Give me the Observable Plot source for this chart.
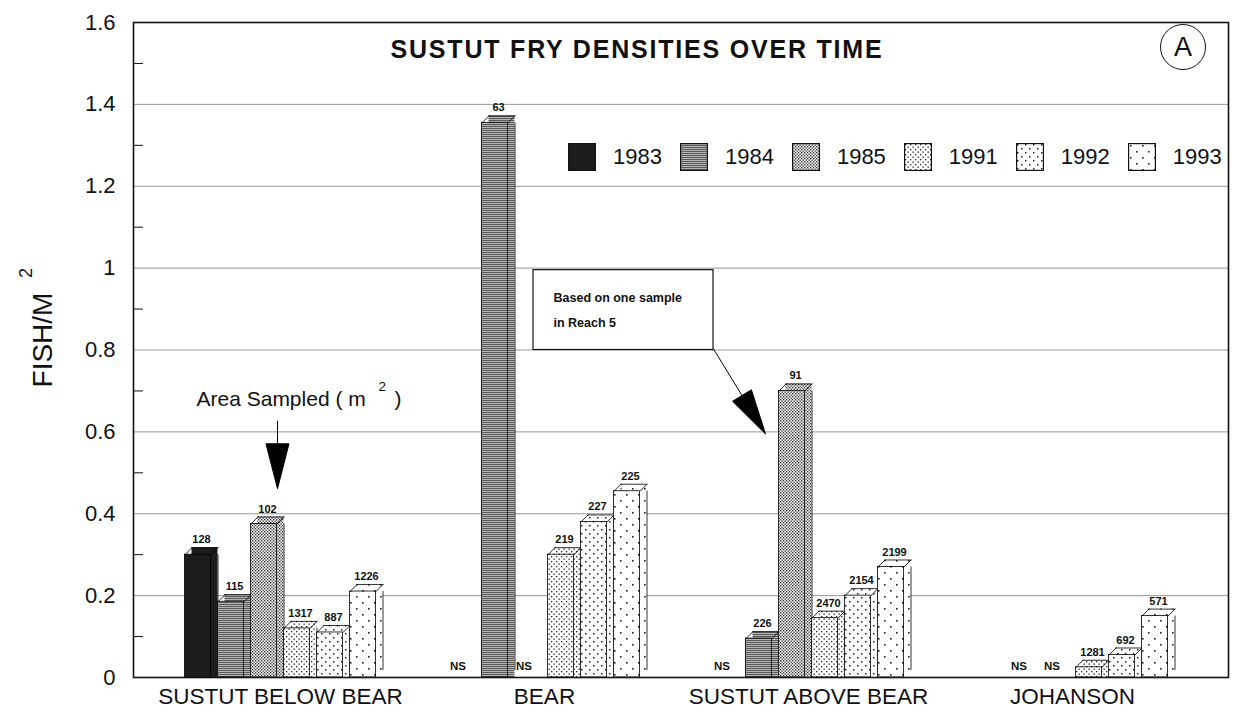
<!DOCTYPE html>
<html><head><meta charset="utf-8">
<script src="https://cdn.jsdelivr.net/npm/d3@7"></script>
<script src="https://cdn.jsdelivr.net/npm/@observablehq/plot@0.6"></script>
<style>
body{margin:0;background:#fff;font-family:"Liberation Sans",Arial,sans-serif;}
#wrap{position:relative;width:1237px;height:717px;overflow:hidden;}
#chart{position:absolute;left:0;top:0;}
#title{position:absolute;left:287px;width:700px;top:37px;text-align:center;font-weight:bold;font-size:25px;line-height:25px;letter-spacing:1.8px;color:#111;}
#badge{position:absolute;left:1160px;top:24px;width:46px;height:46px;border:1.4px solid #111;border-radius:50%;box-sizing:border-box;text-align:center;line-height:45px;font-size:27px;color:#111;}
#legend{position:absolute;left:568px;top:143px;display:flex;align-items:center;}
.item{display:flex;align-items:center;margin-right:18px;}
.sw{width:28px;height:28px;margin-right:17px;}
.lab{font-size:22px;color:#111;}
</style></head>
<body>
<div id="wrap">
<svg width="0" height="0" style="position:absolute">
 <defs>
  <pattern id="p1984" patternUnits="userSpaceOnUse" width="4" height="2">
   <rect width="4" height="2" fill="#b4b4b4"/><rect width="4" height="1" fill="#5a5a5a"/>
  </pattern>
  <pattern id="p1985" patternUnits="userSpaceOnUse" width="3" height="3">
   <rect width="3" height="3" fill="#f2f2f2"/><rect x="0" y="0" width="1.3" height="1.3" fill="#333"/><rect x="1.5" y="1.5" width="1.3" height="1.3" fill="#333"/>
  </pattern>
  <pattern id="p1991" patternUnits="userSpaceOnUse" width="5" height="5">
   <rect width="5" height="5" fill="#fff"/><rect x="1" y="1" width="1.3" height="1.3" fill="#222"/><rect x="3.5" y="3.5" width="1.3" height="1.3" fill="#222"/>
  </pattern>
  <pattern id="p1992" patternUnits="userSpaceOnUse" width="8" height="8">
   <rect width="8" height="8" fill="#fff"/><rect x="1" y="1" width="1.5" height="1.5" fill="#222"/><rect x="5" y="5" width="1.5" height="1.5" fill="#222"/>
  </pattern>
  <pattern id="p1993" patternUnits="userSpaceOnUse" width="12" height="12">
   <rect width="12" height="12" fill="#fff"/><rect x="2" y="2" width="1.6" height="1.6" fill="#222"/><rect x="8" y="8" width="1.6" height="1.6" fill="#222"/>
  </pattern>
 </defs>
</svg>
<div id="chart"></div>
<div id="title">SUSTUT FRY DENSITIES OVER TIME</div>
<div id="badge">A</div>
<div id="legend"></div>
</div>
<script>
// ---- data ----
const groups = ["SUSTUT BELOW BEAR", "BEAR", "SUSTUT ABOVE BEAR", "JOHANSON"];
const years = ["1983", "1984", "1985", "1991", "1992", "1993"];
// fish / m^2 per group (null = no bar)
const density1983 = [0.30, null, null, null];
const density1984 = [0.185, 1.355, 0.095, null];
const density1985 = [0.375, null, 0.70, null];
const density1991 = [0.12, 0.30, 0.145, 0.025];
const density1992 = [0.11, 0.38, 0.20, 0.055];
const density1993 = [0.21, 0.455, 0.27, 0.15];
// area sampled (m^2)
const area1983 = [128, null, null, null];
const area1984 = [115, 63, 226, null];
const area1985 = [102, null, 91, null];
const area1991 = [1317, 219, 2470, 1281];
const area1992 = [887, 227, 2154, 692];
const area1993 = [1226, 225, 2199, 571];
// not sampled
const ns1983 = [false, true, true, false];
const ns1984 = [false, false, false, true];
const ns1985 = [false, true, false, true];
const ns1991 = [false, false, false, false];
const ns1992 = [false, false, false, false];
const ns1993 = [false, false, false, false];
const yTicks = [0, 0.2, 0.4, 0.6, 0.8, 1, 1.2, 1.4, 1.6];
const gridValues = [0.2, 0.4, 0.6, 0.8, 1, 1.2, 1.4];
const minorTicks = [0.1, 0.3, 0.5, 0.7, 0.9, 1.1, 1.3, 1.5];

const densityByYear = {"1983": density1983, "1984": density1984, "1985": density1985, "1991": density1991, "1992": density1992, "1993": density1993};
const areaByYear = {"1983": area1983, "1984": area1984, "1985": area1985, "1991": area1991, "1992": area1992, "1993": area1993};
const nsByYear = {"1983": ns1983, "1984": ns1984, "1985": ns1985, "1991": ns1991, "1992": ns1992, "1993": ns1993};
const fills = {"1983": "#1c1c1c", "1984": "url(#p1984)", "1985": "url(#p1985)", "1991": "url(#p1991)", "1992": "url(#p1992)", "1993": "url(#p1993)"};

const rows = [];
years.forEach(yr => groups.forEach((g, i) => rows.push({group: g, year: yr, value: densityByYear[yr][i], area: areaByYear[yr][i], ns: nsByYear[yr][i]})));

// ---- layout ----
const W = 1237, H = 717, mL = 133, mR = 9, mT = 22, mB = 40;
const insL = 15, insR = 24;
const BAND = (W - mL - mR - insL - insR) / groups.length; // 264
const PITCH = 33, FRONT = 26, DEPTH = 7, OUTER = (BAND - PITCH * years.length) / 2 + (PITCH - FRONT) / 2;

const marks = [
  Plot.ruleY(gridValues, {stroke: "#8a8a8a", strokeWidth: 0.9}),
  Plot.tickY(minorTicks, {y: d => d, insetRight: W - mL - mR - 10, stroke: "#111", strokeWidth: 1}),
];

years.forEach((yr, j) => {
  const data = rows.filter(d => d.year === yr && d.value != null);
  const L = OUTER + PITCH * j;
  const R = BAND - L - FRONT;
  const half = BAND / 2;
  const f = fills[yr];
  const sw = 0.8;
  // back (depth) fill
  marks.push(Plot.barY(data, {x: "group", y: "value", insetLeft: L + DEPTH, insetRight: R - DEPTH, insetTop: -DEPTH, fill: f}));
  // front face
  marks.push(Plot.barY(data, {x: "group", y: "value", insetLeft: L, insetRight: R, fill: f, stroke: "#000", strokeWidth: sw}));
  // diagonals
  marks.push(Plot.vector(data, {x: "group", y: "value", dx: L - half, length: DEPTH * Math.SQRT2, rotate: 45, anchor: "start", r: 0, stroke: "#000", strokeWidth: sw}));
  marks.push(Plot.vector(data, {x: "group", y: "value", dx: L + FRONT - half, length: DEPTH * Math.SQRT2, rotate: 45, anchor: "start", r: 0, stroke: "#000", strokeWidth: sw}));
  // back top edge and back right edge
  marks.push(Plot.tickY(data, {x: "group", y: "value", insetLeft: L + DEPTH, insetRight: R - DEPTH, dy: -DEPTH, stroke: "#000", strokeWidth: sw}));
  marks.push(Plot.ruleX(data, {x: "group", y1: 0, y2: "value", dx: L + FRONT + DEPTH - half, insetTop: -DEPTH, stroke: "#000", strokeWidth: sw}));
  // value labels (area sampled)
  marks.push(Plot.text(data, {x: "group", y: "value", text: d => String(d.area), dx: L + FRONT / 2 + DEPTH / 2 - half, dy: -15, fontSize: 11, fontWeight: "bold", fill: "#111"}));
  // NS labels
  const nsData = rows.filter(d => d.year === yr && d.ns);
  marks.push(Plot.text(nsData, {x: "group", y: 0, text: () => "NS", dx: L + FRONT / 2 - half - 4, dy: -11, fontSize: 11.5, fontWeight: "bold", fill: "#111"}));
});

// annotations
const downArrow = {draw(ctx) { ctx.moveTo(0, 0); ctx.lineTo(-11.5, -45); ctx.lineTo(11.5, -45); ctx.closePath(); ctx.moveTo(0, -45); ctx.lineTo(0, -68); }};
const diagArrow = {draw(ctx) { ctx.moveTo(0, 0); ctx.lineTo(-14.1, -44.1); ctx.lineTo(-32.9, -32.7); ctx.closePath(); ctx.moveTo(-23.5, -38.4); ctx.lineTo(-52, -85); }};
marks.push(
  Plot.dot([{g: groups[0]}], {x: "g", y: 0.461, dx: -3, symbol: downArrow, fill: "#000", stroke: "#000", strokeWidth: 1}),
  Plot.text([{g: groups[0]}], {x: "g", y: 0.68, dx: -84, text: () => "Area Sampled ( m", textAnchor: "start", fontSize: 21, fill: "#111"}),
  Plot.text([{g: groups[0]}], {x: "g", y: 0.68, dx: 98, dy: -12, text: () => "2", textAnchor: "start", fontSize: 13.5, fill: "#111"}),
  Plot.text([{g: groups[0]}], {x: "g", y: 0.68, dx: 114, text: () => ")", textAnchor: "start", fontSize: 21, fill: "#111"}),
  Plot.barY([{g: groups[1]}], {x: "g", y1: 0.8, y2: 0.995, insetLeft: 121, insetRight: -37, fill: "#fff", stroke: "#111", strokeWidth: 1.2}),
  Plot.text([{g: groups[1]}], {x: "g", y: 0.962, dx: 9, text: () => "Based on one sample\nin Reach 5", textAnchor: "start", lineAnchor: "top", lineHeight: 2.05, fontSize: 12.5, fontWeight: "bold", letterSpacing: 1, fill: "#111"}),
  Plot.dot([{g: groups[2]}], {x: "g", y: 0.595, dx: -43, symbol: diagArrow, fill: "#000", stroke: "#000", strokeWidth: 1}),
  // y-axis title
  Plot.text(["FISH/M"], {frameAnchor: "left", text: d => d, rotate: -90, textAnchor: "middle", dx: -90, dy: -10, fontSize: 28, fill: "#111"}),
  Plot.text(["2"], {frameAnchor: "left", text: d => d, rotate: -90, textAnchor: "middle", dx: -107, dy: -77, fontSize: 18, fill: "#111"}),
  Plot.axisY({ticks: yTicks, tickSize: 0, tickPadding: 18, fontSize: 22, tickFormat: d => d3.format("~g")(d), label: null, color: "#111"}),
  Plot.axisX({tickSize: 0, tickPadding: 11, fontSize: 22.5, label: null, color: "#111"}),
  Plot.frame({stroke: "#111", strokeWidth: 1.6})
);

const chart = Plot.plot({
  width: W, height: H,
  marginLeft: mL, marginRight: mR, marginTop: mT, marginBottom: mB,
  style: {background: "transparent", fontFamily: "Liberation Sans, Arial, sans-serif"},
  x: {domain: groups, padding: 0, insetLeft: insL, insetRight: insR},
  y: {domain: [0, 1.6]},
  marks
});
document.getElementById("chart").appendChild(chart);

// legend
const leg = document.getElementById("legend");
years.forEach(yr => {
  const it = document.createElement("div"); it.className = "item";
  it.innerHTML = `<svg class="sw" width="28" height="28"><rect x="0.6" y="0.6" width="26.8" height="26.8" fill="${fills[yr]}" stroke="#111" stroke-width="1.2"/></svg><span class="lab">${yr}</span>`;
  leg.appendChild(it);
});
</script>
</body></html>
